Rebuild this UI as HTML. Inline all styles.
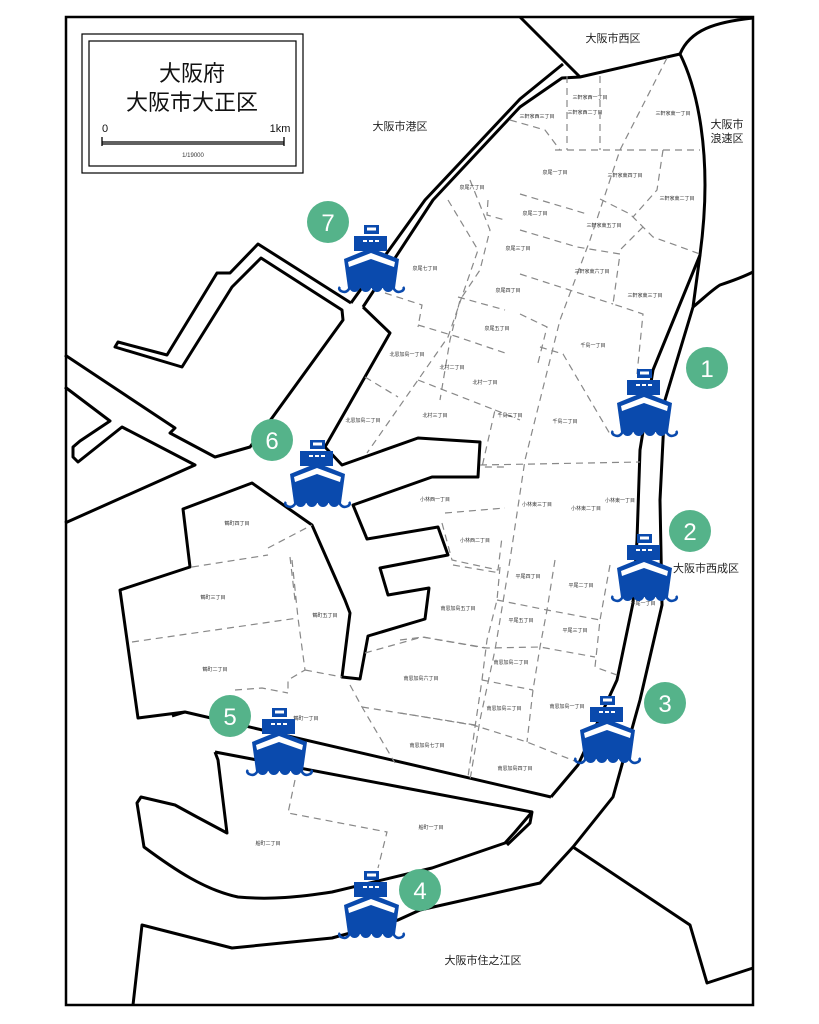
<!DOCTYPE html>
<html><head><meta charset="utf-8"><style>
html,body{margin:0;padding:0;background:#fff;}
svg{display:block;}
.m{fill:none;stroke:#000;stroke-width:3;stroke-linejoin:round;}
.d{fill:none;stroke:#888;stroke-width:1.2;stroke-dasharray:7 5;}
.s{font-family:"Liberation Sans","Noto Sans CJK JP",sans-serif;font-size:5px;fill:#333;text-anchor:middle;}
.r{font-family:"Liberation Sans","Noto Sans CJK JP",sans-serif;font-size:11px;fill:#222;text-anchor:middle;}
.n{font-family:"Liberation Sans",sans-serif;font-size:24px;fill:#fff;text-anchor:middle;}
</style></head><body>
<svg width="819" height="1024" viewBox="0 0 819 1024" xmlns="http://www.w3.org/2000/svg">
<defs>
<g id="ship">
<rect x="28" y="1" width="15" height="9" fill="#0a4aad"/>
<rect x="31" y="3.5" width="9" height="3" fill="#fff"/>
<rect x="18" y="12" width="33" height="15" fill="#0a4aad"/>
<rect x="27" y="16" width="4" height="2" fill="#fff"/><rect x="33" y="16" width="4" height="2" fill="#fff"/><rect x="39" y="16" width="4" height="2" fill="#fff"/>
<path d="M8,35 L35,24 L63,35 L59,64 L12,64 Z" fill="#0a4aad"/>
<path d="M12,38 L35,29 L59,38 L58,43 L35,35 L13,43 Z" fill="#fff"/>
<path d="M13,62 a5.6,6 0 0 0 11.2,0 a5.6,6 0 0 0 11.2,0 a5.6,6 0 0 0 11.2,0 a5.6,6 0 0 0 11.2,0 Z" fill="#0a4aad"/>
<path d="M14,63 q-3,7 -9,4 q-3,-2 -1,-4" fill="none" stroke="#0a4aad" stroke-width="2.6"/>
<path d="M57,63 q3,7 9,4 q3,-2 1,-4" fill="none" stroke="#0a4aad" stroke-width="2.6"/>
</g>
</defs>

<!-- frame -->
<rect x="66" y="17" width="687" height="988" fill="none" stroke="#000" stroke-width="2.5"/>

<!-- legend -->
<rect x="82" y="34" width="221" height="139" fill="none" stroke="#000" stroke-width="1.2"/>
<rect x="89" y="41" width="207" height="125" fill="none" stroke="#000" stroke-width="1.2"/>
<text x="192" y="81" style="font-family:'Liberation Sans','Noto Sans CJK JP',sans-serif;font-size:22px;text-anchor:middle;fill:#111">大阪府</text>
<text x="192" y="110" style="font-family:'Liberation Sans','Noto Sans CJK JP',sans-serif;font-size:22px;text-anchor:middle;fill:#111">大阪市大正区</text>
<text x="102" y="132" style="font-family:'Liberation Sans',sans-serif;font-size:11px;fill:#111">0</text>
<text x="280" y="132" style="font-family:'Liberation Sans',sans-serif;font-size:11px;fill:#111;text-anchor:middle">1km</text>
<path d="M102,137 V146 M102,142 H284 M284,137 V146" stroke="#000" stroke-width="1.3" fill="none"/>
<path d="M102,144 H284" stroke="#000" stroke-width="1.3"/>
<text x="193" y="157" style="font-family:'Liberation Sans',sans-serif;font-size:6px;fill:#333;text-anchor:middle">1/19000</text>

<!-- main lines -->
<path class="m" d="M520,17 L580,77"/>
<path class="m" d="M351,303 L425,200 L520,99 L563,64"/>
<path class="m" d="M363,307 L433,200 L520,107 L562,78 L580,77 L680,54"/>
<path class="m" d="M753,18 C715,22 690,30 680,54 C698,90 705,140 705,185 C705,215 702,240 700,255 L653,370 L640,450 L637,540 L633,603 L617,680 L578,765 L551,797"/>
<path class="m" d="M700,255 L693,307 L665,400 L660,500 L662,605 L640,700 L613,797 L573,847 L540,883 L420,910 L398,920 L332,938 L232,948 L142,925 L133,1005"/>
<path class="m" d="M693,307 C705,297 712,290 720,285 C735,280 745,276 753,272"/>
<path class="m" d="M573,847 L690,925 L707,983 L753,968"/>
<path class="m" d="M363,307 L390,333 L325,447 L342,465 L418,438 L480,442 L478,477 L432,477 L353,505 L367,539 L438,527 L448,555 L380,568 L388,595 L429,588 L425,619 L368,636 L360,679 L342,677 L350,613 L345,600 L312,525 L252,483 L183,509 L190,567 L120,590 L138,718 L185,712 L551,797"/>
<path class="m" d="M351,303 L258,244 L230,273 L217,273 L167,355 L118,342 L115,347 L182,367 L232,287 L261,258 L342,310 L343,320 L272,418 L250,447 L215,457 L170,433 L175,428 L65,355"/>
<path class="m" d="M65,387 L110,421 L80,441 L73,447 L73,457 L78,462 L122,427 L195,465 L65,523"/>
<path class="m" d="M185,712 L172,716"/>
<path class="m" d="M215,752 L218,760 L227,833 L197,817 L175,805 L141,797 L137,803 L144,847 C175,870 205,890 238,897 C270,900 300,897 332,892 L432,868 L505,843 L515,832 L532,812 L530,823 L507,845"/>
<path class="m" d="M215,752 L400,787 L532,812"/>

<!-- dashed boundaries -->
<path class="d" d="M567,76 L567,150 M600,76 L600,150 M555,150 L700,150"/>
<path class="d" d="M667,58 L620,150 L590,240 L560,320 L540,400 L525,460 L510,560 L495,650 L480,720 L470,780"/>
<path class="d" d="M663,150 L657,190 L633,217 M520,194 L587,214 M600,199 L630,214 L653,237 L700,254"/>
<path class="d" d="M520,230 L577,247 L620,254 L613,304 L643,314 L637,374 M520,274 L613,304 M643,227 L620,250"/>
<path class="d" d="M520,314 L547,327 L537,367 M540,347 L563,354 L610,434"/>
<path class="d" d="M480,465 L640,462 M510,120 L545,130 L560,150 M470,180 L490,230 L480,270 L460,300 L450,340 L440,400"/>
<path class="d" d="M448,200 L478,250 L448,337 L418,380 L367,453 M488,200 L487,215 L505,220 M458,297 L505,310 M418,325 L458,337 L505,353"/>
<path class="d" d="M385,293 L422,305 L418,327 M365,377 L398,397 M418,380 L495,410 L482,467 L505,467 M495,410 L520,420"/>
<path class="d" d="M445,513 L505,508 M442,523 L452,560 L498,570 L502,537 M453,565 L500,573 M500,567 L497,600 L487,640 L482,680 L475,727 L468,777"/>
<path class="d" d="M555,560 L547,610 L540,647 L533,690 L527,742 M610,565 L600,620 L595,667 L617,675 M497,600 L547,610 L600,620"/>
<path class="d" d="M400,640 L423,637 L487,648 L540,647 L595,657 M482,680 L533,690 M400,713 L473,725 L527,742 L577,762"/>
<path class="d" d="M268,548 L312,525 M192,567 L268,555 M290,557 L295,600 M132,642 L298,618 M292,560 L298,618 L305,670 L288,680 L288,690 M305,670 L342,677"/>
<path class="d" d="M235,690 L262,688 L288,693 M365,653 L422,637 L485,648 M350,685 L362,707 L395,763 M362,707 L475,725"/>
<path class="d" d="M295,780 L288,813 L387,832 L378,868"/>

<!-- region labels -->
<text class="r" x="613" y="42">大阪市西区</text>
<text class="r" x="400" y="130">大阪市港区</text>
<text class="r" x="727" y="128">大阪市</text>
<text class="r" x="727" y="142">浪速区</text>
<text class="r" x="706" y="572">大阪市西成区</text>
<text class="r" x="483" y="964">大阪市住之江区</text>

<!-- small labels -->
<g class="s">
<text x="590" y="99">三軒家西一丁目</text><text x="537" y="118">三軒家西三丁目</text><text x="585" y="114">三軒家西二丁目</text><text x="673" y="115">三軒家東一丁目</text>
<text x="555" y="174">泉尾一丁目</text><text x="625" y="177">三軒家東四丁目</text><text x="472" y="189">泉尾六丁目</text><text x="535" y="215">泉尾二丁目</text>
<text x="677" y="200">三軒家東二丁目</text><text x="604" y="227">三軒家東五丁目</text><text x="518" y="250">泉尾三丁目</text><text x="425" y="270">泉尾七丁目</text>
<text x="592" y="273">三軒家東六丁目</text><text x="508" y="292">泉尾四丁目</text><text x="645" y="297">三軒家東三丁目</text><text x="497" y="330">泉尾五丁目</text>
<text x="593" y="347">千島一丁目</text><text x="407" y="356">北恩加島一丁目</text><text x="452" y="369">北村二丁目</text><text x="485" y="384">北村一丁目</text>
<text x="510" y="417">千島三丁目</text><text x="363" y="422">北恩加島二丁目</text><text x="435" y="417">北村三丁目</text><text x="565" y="423">千島二丁目</text>
<text x="435" y="501">小林西一丁目</text><text x="537" y="506">小林東三丁目</text><text x="586" y="510">小林東二丁目</text><text x="620" y="502">小林東一丁目</text>
<text x="237" y="525">鶴町四丁目</text><text x="475" y="542">小林西二丁目</text><text x="528" y="578">平尾四丁目</text><text x="581" y="587">平尾二丁目</text>
<text x="213" y="599">鶴町三丁目</text><text x="325" y="617">鶴町五丁目</text><text x="458" y="610">南恩加島五丁目</text><text x="521" y="622">平尾五丁目</text>
<text x="575" y="632">平尾三丁目</text><text x="215" y="671">鶴町二丁目</text><text x="421" y="680">南恩加島六丁目</text><text x="511" y="664">南恩加島二丁目</text>
<text x="504" y="710">南恩加島三丁目</text><text x="567" y="708">南恩加島一丁目</text><text x="306" y="720">鶴町一丁目</text><text x="427" y="747">南恩加島七丁目</text>
<text x="515" y="770">南恩加島四丁目</text><text x="431" y="829">船町一丁目</text><text x="268" y="845">船町二丁目</text><text x="643" y="605">平尾一丁目</text>
</g>

<!-- ships -->
<use href="#ship" x="609" y="368"/>
<use href="#ship" x="609" y="533"/>
<use href="#ship" x="572" y="695"/>
<use href="#ship" x="336" y="870"/>
<use href="#ship" x="244" y="707"/>
<use href="#ship" x="282" y="439"/>
<use href="#ship" x="336" y="224"/>

<!-- numbered circles -->
<g fill="#55b38a">
<circle cx="707" cy="368" r="21"/><circle cx="690" cy="531" r="21"/><circle cx="665" cy="703" r="21"/>
<circle cx="420" cy="890" r="21"/><circle cx="230" cy="716" r="21"/><circle cx="272" cy="440" r="21"/><circle cx="328" cy="222" r="21"/>
</g>
<g class="n">
<text x="707" y="377">1</text><text x="690" y="540">2</text><text x="665" y="712">3</text>
<text x="420" y="899">4</text><text x="230" y="725">5</text><text x="272" y="449">6</text><text x="328" y="231">7</text>
</g>
</svg>
</body></html>
